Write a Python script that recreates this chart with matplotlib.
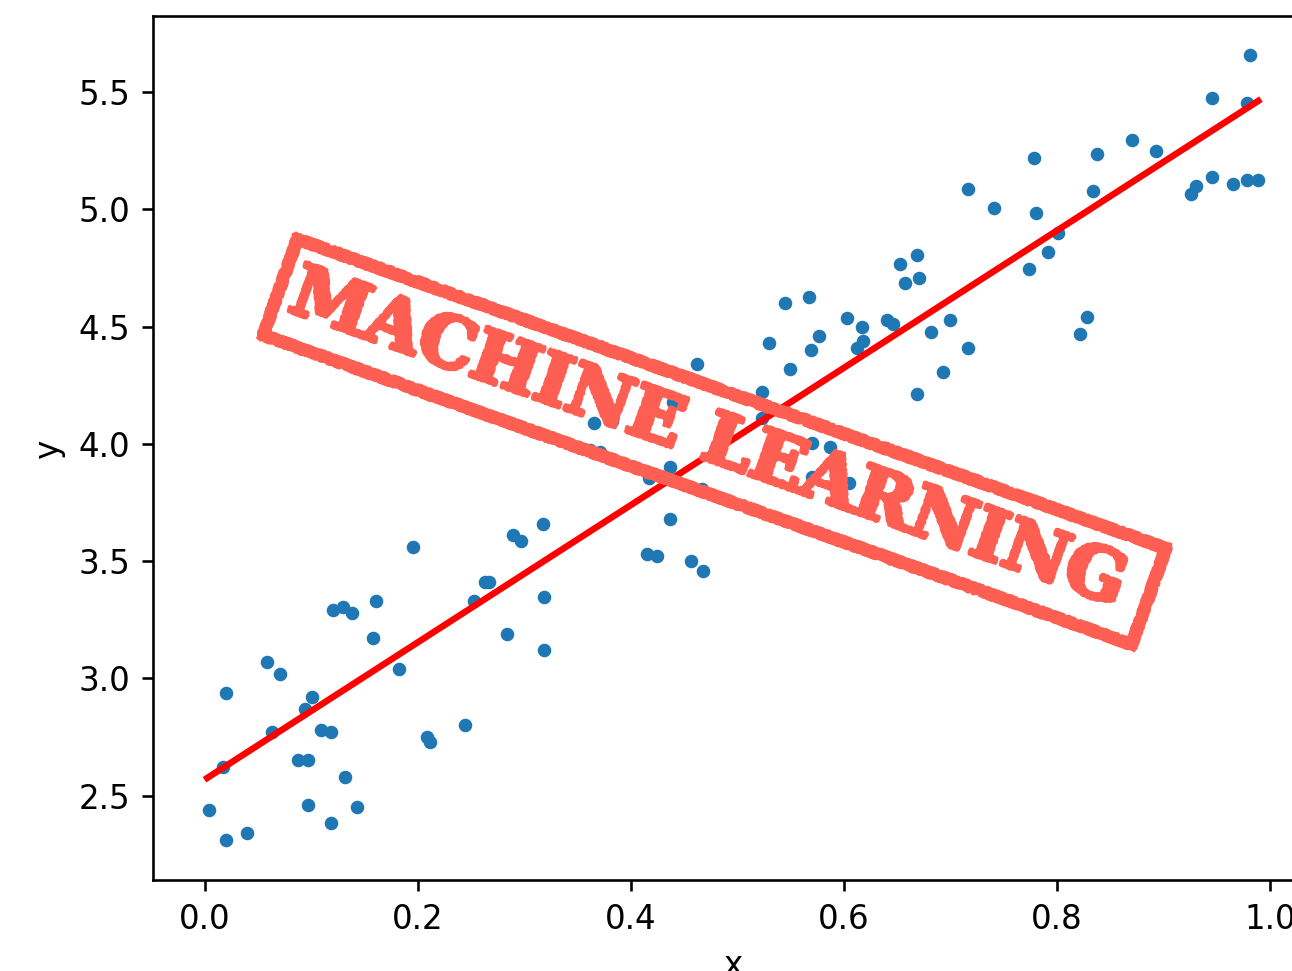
import numpy as np
import matplotlib.pyplot as plt
from matplotlib.patches import Rectangle, PathPatch
from matplotlib.textpath import TextPath
from matplotlib.font_manager import FontProperties
from matplotlib.transforms import Affine2D

# sample points
x = [0.0044, 0.0201, 0.0395, 0.0201, 0.0176, 0.0589, 0.0705, 0.0633, 0.0940, 0.1011,
     0.0880, 0.0971, 0.0968, 0.1187, 0.1321, 0.1431, 0.1096, 0.1187, 0.1206, 0.1300,
     0.1387, 0.1581, 0.1607, 0.1957, 0.1826, 0.2086, 0.2110, 0.2442, 0.2523, 0.2633,
     0.2671, 0.2896, 0.2968, 0.3171, 0.3187, 0.2837, 0.3187, 0.5450, 0.5669, 0.6023,
     0.6171, 0.5763, 0.5297, 0.5692, 0.5491, 0.4617, 0.5231, 0.4392, 0.3650, 0.3819,
     0.5231, 0.5701, 0.5866, 0.3619, 0.3713, 0.4370, 0.5701, 0.6045, 0.4167, 0.4664,
     0.4370, 0.4152, 0.4245, 0.4568, 0.4677, 0.9808, 0.9453, 0.9779, 0.8706, 0.8925,
     0.8373, 0.7779, 0.7166, 0.7406, 0.7804, 0.8333, 0.9453, 0.9651, 0.9779, 0.9885,
     0.9253, 0.9300, 0.8007, 0.7917, 0.7739, 0.6527, 0.6687, 0.6571, 0.6706, 0.6173,
     0.6124, 0.6399, 0.6462, 0.6815, 0.6990, 0.7166, 0.6925, 0.6687, 0.8283, 0.8218]
y = [2.441, 2.312, 2.343, 2.939, 2.624, 3.070, 3.020, 2.773, 2.871, 2.922,
     2.651, 2.651, 2.462, 2.383, 2.581, 2.452, 2.780, 2.771, 3.291, 3.303,
     3.278, 3.171, 3.330, 3.559, 3.040, 2.749, 2.729, 2.801, 3.332, 3.410,
     3.410, 3.610, 3.587, 3.659, 3.349, 3.190, 3.120, 4.599, 4.627, 4.538,
     4.497, 4.459, 4.429, 4.400, 4.319, 4.341, 4.222, 4.180, 4.089, 4.096,
     4.109, 4.003, 3.988, 3.974, 3.967, 3.900, 3.860, 3.832, 3.853, 3.809,
     3.679, 3.531, 3.522, 3.501, 3.460, 5.656, 5.476, 5.452, 5.297, 5.247,
     5.236, 5.217, 5.087, 5.007, 4.986, 5.077, 5.138, 5.107, 5.126, 5.126,
     5.067, 5.099, 4.898, 4.817, 4.747, 4.767, 4.806, 4.686, 4.707, 4.440,
     4.407, 4.528, 4.510, 4.478, 4.529, 4.407, 4.308, 4.211, 4.540, 4.468]

# fitted line end points
fit_x = [0.0024, 0.9886]
fit_y = [2.576, 5.462]

stamp_text = 'MACHINE LEARNING'
stamp_color = '#ff5f52'

W, H, DPI = 1292, 971, 234
fig = plt.figure(figsize=(W / DPI, H / DPI), dpi=DPI)
ax = fig.add_axes([153 / W, 1 - 880 / H, 1160 / W, 864 / H])

ax.scatter(x, y, s=10)
ax.plot(fit_x, fit_y, color='r', linewidth=2)
ax.set_xlim(-0.0485, 1.04)
ax.set_ylim(2.141, 5.824)
ax.set_xlabel('x')
ax.set_ylabel('y')

# overlay in pixel units for the stamp
ov = fig.add_axes([0, 0, 1, 1])
ov.set_xlim(0, W)
ov.set_ylim(0, H)
ov.axis('off')

cx, cy, angle = 714.5, H - 441.75, -19.6
box_w, box_h, border = 934, 114, 12
place = Affine2D().rotate_deg(angle).translate(cx, cy) + ov.transData

frame = Rectangle((-(box_w - border) / 2, -(box_h - border) / 2), box_w - border, box_h - border,
                  fill=False, edgecolor=stamp_color, linewidth=border * 72 / DPI,
                  joinstyle='round', transform=place)
frame.set_sketch_params(scale=1.0, length=8, randomness=20)
ov.add_patch(frame)
for off in (-4.5, 4.5):
    edge = Rectangle((-(box_w - border) / 2 + off, -(box_h - border) / 2 + off),
                     box_w - border - 2 * off, box_h - border - 2 * off,
                     fill=False, edgecolor=stamp_color, linewidth=0.8,
                     joinstyle='round', transform=place)
    edge.set_sketch_params(scale=1.2, length=4, randomness=30)
    ov.add_patch(edge)

# heavy serif lettering, thickened with an outline stroke
stroke = 4.5
font = FontProperties(family='DejaVu Serif', weight='bold')
tp = TextPath((0, 0), stamp_text, size=100, prop=font)
cap = TextPath((0, 0), 'M', size=100, prop=font).get_extents().y1
ext = tp.get_extents()
sx = (878 - stroke) / ext.width
sy = (56 - stroke) / cap
text_tf = (Affine2D().translate(-ext.x0 - ext.width / 2, -cap / 2)
           .scale(sx, sy).translate(-8, 6).rotate_deg(angle).translate(cx, cy))
letters = PathPatch(text_tf.transform_path(tp), facecolor=stamp_color,
                    edgecolor=stamp_color, linewidth=stroke * 72 / DPI,
                    joinstyle='round', transform=ov.transData)
letters.set_sketch_params(scale=0.5, length=3, randomness=10)
ov.add_patch(letters)

fig.savefig('out.png', dpi=DPI)
